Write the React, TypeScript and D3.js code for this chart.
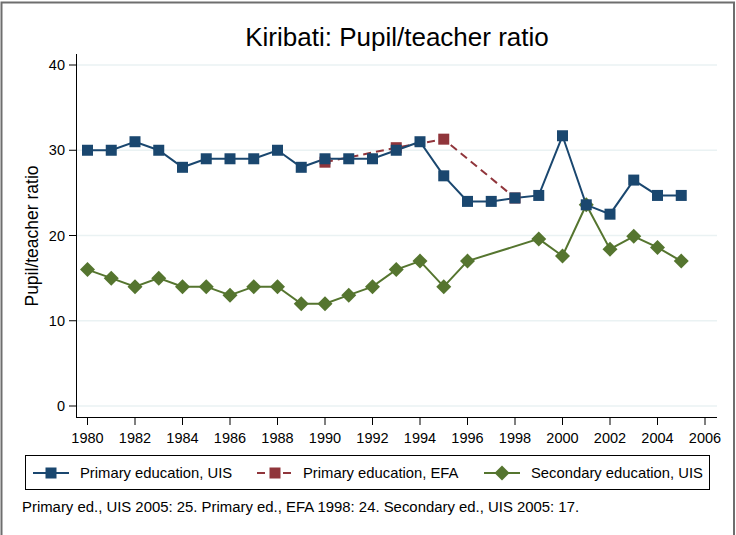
import React from "react";
import * as d3 from "d3";

// years / values
const uisYears = [1980, 1981, 1982, 1983, 1984, 1985, 1986, 1987, 1988, 1989, 1990, 1991, 1992, 1993, 1994, 1995, 1996, 1997, 1998, 1999, 2000, 2001, 2002, 2003, 2004, 2005];
const primaryUIS = [30, 30, 31, 30, 28, 29, 29, 29, 30, 28, 29, 29, 29, 30, 31, 27, 24, 24, 24.4, 24.7, 31.7, 23.6, 22.5, 26.5, 24.7, 24.7];

const efaYears = [1990, 1993, 1995, 1998];
const primaryEFA = [28.6, 30.3, 31.3, 24.4];

const secYears = [1980, 1981, 1982, 1983, 1984, 1985, 1986, 1987, 1988, 1989, 1990, 1991, 1992, 1993, 1994, 1995, 1996, 1999, 2000, 2001, 2002, 2003, 2004, 2005];
const secondaryUIS = [16, 15, 14, 15, 14, 14, 13, 14, 14, 12, 12, 13, 14, 16, 17, 14, 17, 19.6, 17.6, 23.6, 18.4, 19.9, 18.6, 17];

const xTicks = d3.range(1980, 2007, 2);
const yTicks = [0, 10, 20, 30, 40];

const BLUE = "#1a476f";
const RED = "#90353b";
const GREEN = "#55752f";
const FONT = "'Liberation Sans', Arial, sans-serif";

const W = 736;
const H = 535;

export default function App() {
  const x = d3.scaleLinear().domain([1980, 2006]).range([87.5, 705]);
  const y = d3.scaleLinear().domain([0, 40]).range([406, 65]);
  const line = d3
    .line<[number, number]>()
    .x((d) => x(d[0]))
    .y((d) => y(d[1]));

  const pts = (xs: number[], ys: number[]) => xs.map((v, i) => [v, ys[i]] as [number, number]);
  const uis = pts(uisYears, primaryUIS);
  const efa = pts(efaYears, primaryEFA);
  const sec = pts(secYears, secondaryUIS);

  const square = (cx: number, cy: number, color: string, key: any) => (
    <rect key={key} x={cx - 5.5} y={cy - 5.5} width={11} height={11} fill={color} />
  );
  const diamond = (cx: number, cy: number, color: string, key: any) => (
    <path key={key} d={`M${cx},${cy - 7.5}L${cx + 7.5},${cy}L${cx},${cy + 7.5}L${cx - 7.5},${cy}Z`} fill={color} />
  );

  const legend = [
    { label: "Primary education, UIS", color: BLUE, x0: 33, tx: 80, dash: undefined, m: square },
    { label: "Primary education, EFA", color: RED, x0: 257, tx: 303, dash: "8,5", m: square },
    { label: "Secondary education, UIS", color: GREEN, x0: 484, tx: 531, dash: undefined, m: diamond },
  ];

  return (
    <svg width={W} height={H} style={{ position: "absolute", left: 0, top: 0, fontFamily: FONT }}>
      <rect x={0} y={0} width={W} height={H} fill="#fff" />
      <rect x={1.5} y={2.5} width={732.5} height={540} fill="none" stroke="#6e6e6e" strokeWidth={2} />

      <text x={397} y={46} textAnchor="middle" fontSize={26} fill="#000">
        Kiribati: Pupil/teacher ratio
      </text>

      {/* grid */}
      {yTicks.map((t) => (
        <line key={t} x1={77} x2={717} y1={y(t)} y2={y(t)} stroke="#eaf2f3" strokeWidth={1.5} />
      ))}

      {/* y axis */}
      <line x1={76.5} x2={76.5} y1={54} y2={418} stroke="#000" strokeWidth={1} />
      {yTicks.map((t) => (
        <g key={t}>
          <line x1={69} x2={77} y1={y(t)} y2={y(t)} stroke="#000" />
          <text x={65} y={y(t) + 5} textAnchor="end" fontSize={14.5}>
            {t}
          </text>
        </g>
      ))}
      <text transform="translate(38,236) rotate(-90)" textAnchor="middle" fontSize={17.5}>
        Pupil/teacher ratio
      </text>

      {/* x axis */}
      <line x1={76} x2={717} y1={417.5} y2={417.5} stroke="#000" strokeWidth={1} />
      {xTicks.map((t) => (
        <g key={t}>
          <line x1={x(t)} x2={x(t)} y1={418} y2={425} stroke="#000" />
          <text x={x(t)} y={443} textAnchor="middle" fontSize={14.5}>
            {t}
          </text>
        </g>
      ))}

      {/* series */}
      <path d={line(sec) || ""} fill="none" stroke={GREEN} strokeWidth={2} />
      <path d={line(efa) || ""} fill="none" stroke={RED} strokeWidth={2} strokeDasharray="8,5" />
      <path d={line(uis) || ""} fill="none" stroke={BLUE} strokeWidth={2} />
      {sec.map((d, i) => diamond(x(d[0]), y(d[1]), GREEN, "s" + i))}
      {efa.map((d, i) => square(x(d[0]), y(d[1]), RED, "e" + i))}
      {uis.map((d, i) => square(x(d[0]), y(d[1]), BLUE, "u" + i))}

      {/* legend */}
      <rect x={25.5} y={455.5} width={684} height={34} fill="#fff" stroke="#000" strokeWidth={1} />
      {legend.map((l) => (
        <g key={l.label}>
          <line x1={l.x0} x2={l.x0 + 36} y1={473} y2={473} stroke={l.color} strokeWidth={2} strokeDasharray={l.dash} />
          {l.m(l.x0 + 18, 473, l.color, 0)}
          <text x={l.tx} y={478} fontSize={14.8}>
            {l.label}
          </text>
        </g>
      ))}

      <text x={22} y={512} fontSize={14.9}>
        Primary ed., UIS 2005: 25. Primary ed., EFA 1998: 24. Secondary ed., UIS 2005: 17.
      </text>
    </svg>
  );
}
